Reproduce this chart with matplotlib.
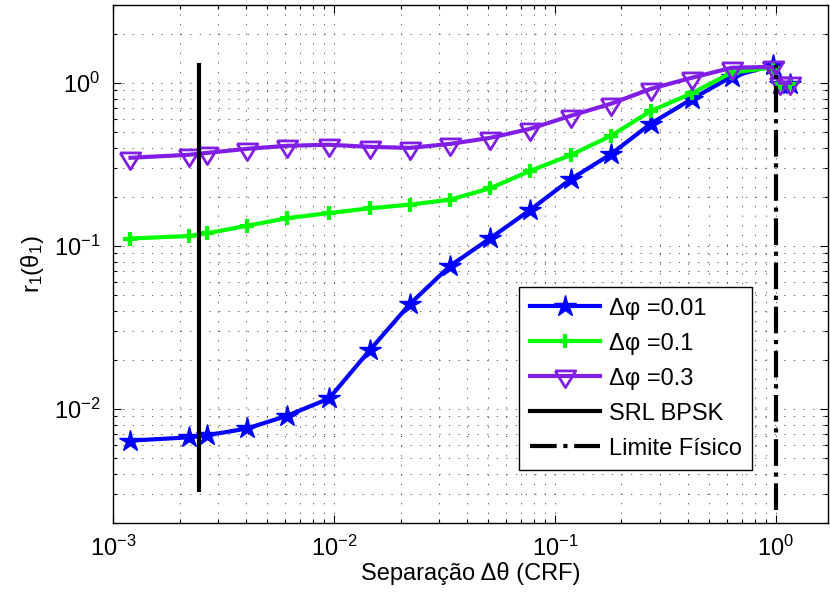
import matplotlib
matplotlib.use("Agg")
import matplotlib.pyplot as plt
from matplotlib.ticker import LogLocator, NullFormatter

plt.rcParams["font.family"] = ["Liberation Sans", "DejaVu Sans"]
plt.rcParams["mathtext.fontset"] = "custom"
plt.rcParams["mathtext.rm"] = "Liberation Sans"
plt.rcParams["mathtext.it"] = "Liberation Sans:italic"
plt.rcParams["mathtext.bf"] = "Liberation Sans:bold"
plt.rcParams["font.size"] = 17

# separation (CRF units)
sep = [1.2e-3, 2.2e-3, 2.67e-3, 4.05e-3, 6.15e-3, 9.5e-3, 0.0145, 0.022,
       0.0335, 0.051, 0.077, 0.118, 0.179, 0.272, 0.415, 0.63, 0.965,
       1.04, 1.16]

# r1(theta1) for each phase error
r_dphi_001 = [0.0064, 0.0067, 0.0069, 0.0076, 0.0091, 0.0116, 0.0229, 0.0439,
              0.0754, 0.1115, 0.1656, 0.257, 0.365, 0.563, 0.794, 1.09, 1.28,
              0.98, 0.98]
r_dphi_01 = [0.111, 0.115, 0.1196, 0.133, 0.148, 0.159, 0.170, 0.179, 0.192,
             0.226, 0.288, 0.361, 0.473, 0.673, 0.86, 1.156, 1.24, 0.99, 0.99]
r_dphi_03 = [0.347, 0.362, 0.372, 0.394, 0.411, 0.417, 0.405, 0.399, 0.422,
             0.460, 0.522, 0.628, 0.744, 0.919, 1.073, 1.236, 1.253, 1.0, 1.0]

# vertical reference lines
srl_x = [2.45e-3, 2.45e-3]
srl_y = [0.0032, 1.28]
lim_x = [1.0, 1.0]
lim_y = [0.0024, 1.28]

# downward triangle centred on its centroid
tri_down = [(-1.0, 0.54), (1.0, 0.54), (0.0, -1.08), (-1.0, 0.54)]

fig = plt.figure(figsize=(8.3, 5.98), dpi=100)
ax = fig.add_axes([113 / 830, 75 / 598, 715 / 830, 518 / 598])

ax.plot(sep, r_dphi_001, color="#0000ff", lw=3, marker="*", ms=16,
        label=r"Δφ =0.01")
ax.plot(sep, r_dphi_01, color="#00ff00", lw=3, marker="+", ms=10, mew=3,
        label=r"Δφ =0.1")
ax.plot(sep, r_dphi_03, color="#801ee6", lw=3, marker=tri_down, ms=16, mew=2,
        mfc="none", label=r"Δφ =0.3")
ax.plot(srl_x, srl_y, color="black", lw=3, label="SRL BPSK")
ax.plot(lim_x, lim_y, color="black", lw=3, ls="-.", label="Limite Físico")

ax.set_xscale("log")
ax.set_yscale("log")
ax.set_xlim(1e-3, 1.72)
ax.set_ylim(0.002, 3)

ax.xaxis.set_major_locator(LogLocator(base=10, numticks=10))
ax.yaxis.set_major_locator(LogLocator(base=10, numticks=10))
ax.xaxis.set_minor_locator(LogLocator(base=10, subs=range(2, 10), numticks=20))
ax.yaxis.set_minor_locator(LogLocator(base=10, subs=range(2, 10), numticks=20))
ax.xaxis.set_minor_formatter(NullFormatter())
ax.yaxis.set_minor_formatter(NullFormatter())

ax.grid(True, which="both", color="0.25", lw=0.6, ls=(0, (1.5, 10)))
ax.set_axisbelow(True)
ax.tick_params(which="both", direction="in", top=True, right=True,
               labelsize=17, pad=9)
ax.tick_params(which="major", length=6, width=0.8)
ax.tick_params(which="minor", length=3, width=0.8)
for s in ax.spines.values():
    s.set_linewidth(1)

ax.set_xlabel("Separação Δθ (CRF)", fontsize=17, labelpad=1)
ax.set_ylabel(r"$\mathregular{r_1(θ_1)}$", fontsize=17, labelpad=6)

leg = ax.legend(loc="lower right", bbox_to_anchor=(0.894, 0.102),
                borderaxespad=0, fancybox=False, framealpha=1,
                edgecolor="black", fontsize=17, handlelength=3.0,
                labelspacing=0.55, handletextpad=0.35, borderpad=0.45)
leg.get_frame().set_linewidth(1)

fig.savefig("out.png", dpi=100)
